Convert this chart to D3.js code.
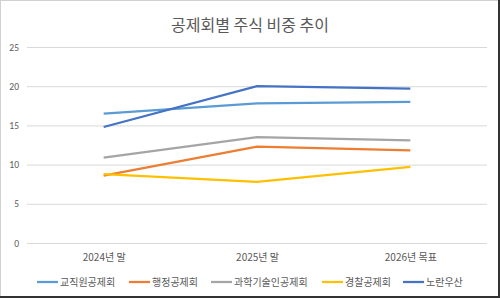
<!DOCTYPE html>
<html>
<head>
<meta charset="utf-8">
<title>공제회별 주식 비중 추이</title>
<style>
 body{margin:0;background:#fff;}
 text{font-family:"Noto Sans CJK KR","Noto Sans",sans-serif;}
</style>
</head>
<body>
<div id="chart"></div>
<script src="https://d3js.org/d3.v7.min.js"></script>
<script>

const periods = ['2024년 말', '2025년 말', '2026년 목표'];
const seriesNames = ['교직원공제회', '행정공제회', '과학기술인공제회', '경찰공제회', '노란우산'];
const teachers = [16.5, 17.8, 18.0];
const admin = [8.6, 12.3, 11.8];
const science = [10.9, 13.5, 13.1];
const police = [8.8, 7.8, 9.7];
const yellowUmbrella = [14.8, 20.0, 19.7];
const yTicks = [0, 5, 10, 15, 20, 25];
const colors = ['#5b9bd5', '#ed7d31', '#a5a5a5', '#ffc000', '#4472c4'];

const series = [teachers, admin, science, police, yellowUmbrella].map((v, i) => ({
  name: seriesNames[i], values: v, color: colors[i]
}));

const width = 500;
const height = 298;
const margin = { top: 47, bottom: 55, left: 27, right: 13 };

const svg = d3.select('#chart')
  .append('svg')
  .attr('width', width)
  .attr('height', height);

// frame
svg.append('rect')
  .attr('x', 0.5).attr('y', 0.5)
  .attr('width', width - 1).attr('height', height - 1)
  .attr('fill', '#fff').attr('stroke', '#d0d0d0');
svg.append('path')
  .attr('d', `M${width - 1},0V${height - 1}H0`)
  .attr('fill', 'none').attr('stroke', '#333').attr('stroke-width', 2);

const x = d3.scalePoint()
  .domain(periods)
  .range([margin.left, width - margin.right])
  .padding(0.5);

const y = d3.scaleLinear()
  .domain([0, 25])
  .range([height - margin.bottom, margin.top]);

svg.append('text')
  .attr('x', 250).attr('y', 31)
  .attr('text-anchor', 'middle')
  .attr('font-size', '16px')
  .attr('fill', '#595959')
  .text('공제회별 주식 비중 추이');

const yAxis = svg.append('g')
  .attr('transform', `translate(${margin.left},0)`)
  .call(d3.axisLeft(y).tickValues(yTicks).tickSize(-(width - margin.left - margin.right)).tickPadding(8));
yAxis.select('.domain').remove();
yAxis.selectAll('line').attr('stroke', '#d9d9d9');
yAxis.selectAll('text').attr('fill', '#595959').attr('font-size', '9.5px')
  .style('font-family', 'Calibri, "Liberation Sans", sans-serif');

const xAxis = svg.append('g')
  .attr('transform', `translate(0,${height - margin.bottom})`)
  .call(d3.axisBottom(x).tickSize(0).tickPadding(11));
xAxis.select('.domain').remove();
xAxis.selectAll('text').attr('fill', '#595959').attr('font-size', '10px');

const line = d3.line()
  .x((d, i) => x(periods[i]))
  .y(d => y(d));

svg.append('g')
  .selectAll('path')
  .data(series)
  .join('path')
    .attr('d', d => line(d.values))
    .attr('fill', 'none')
    .attr('stroke', d => d.color)
    .attr('stroke-width', 2.25);

// legend
const legendX = [37, 129, 211, 322, 403];
const legend = svg.append('g')
  .selectAll('g')
  .data(series)
  .join('g')
    .attr('transform', (d, i) => `translate(${legendX[i]},282)`);
legend.append('line')
  .attr('x1', 0).attr('x2', 21)
  .attr('stroke', d => d.color).attr('stroke-width', 2.25);
legend.append('text')
  .attr('x', 23).attr('dy', '0.35em')
  .attr('font-size', '10px')
  .attr('fill', '#595959')
  .text(d => d.name);

</script>
</body>
</html>
